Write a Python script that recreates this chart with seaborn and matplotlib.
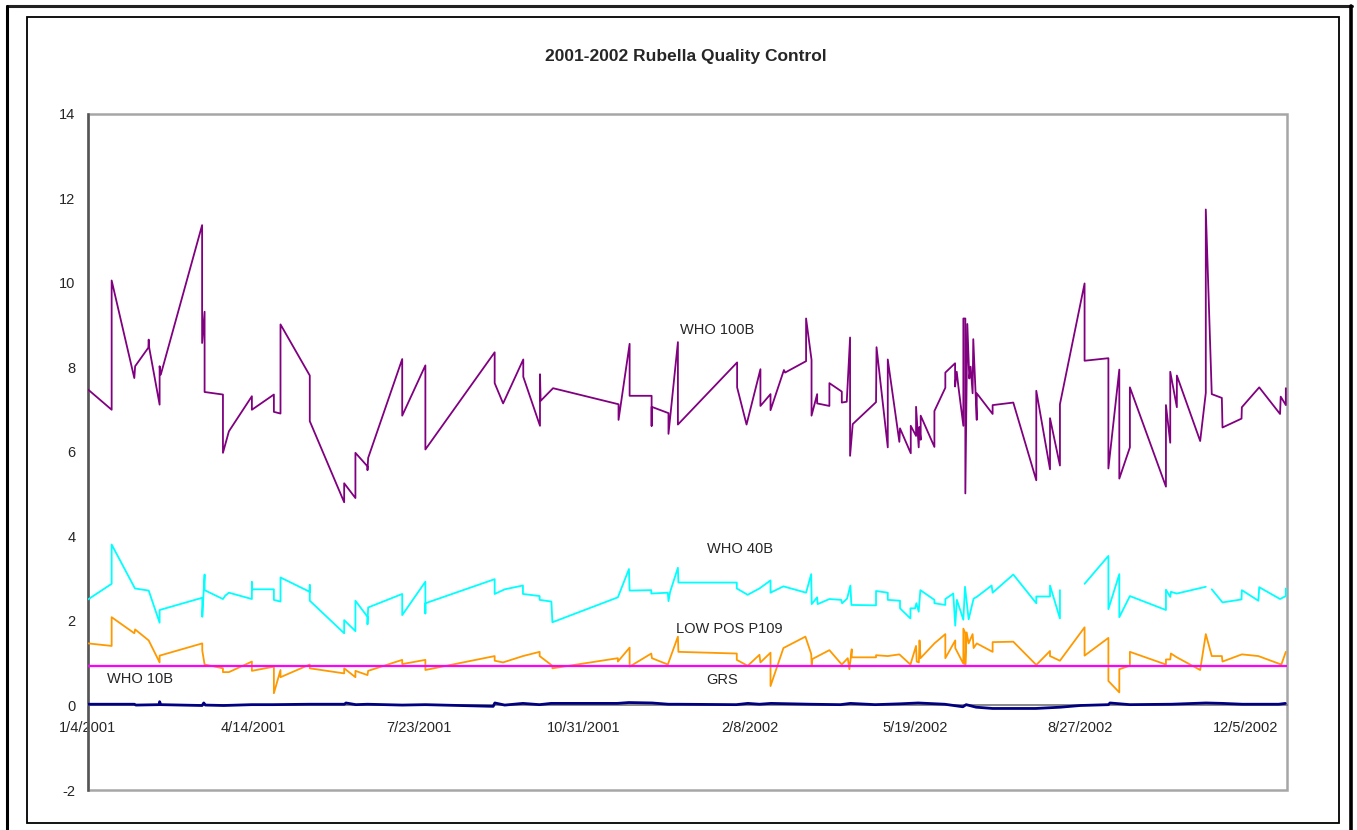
import matplotlib
matplotlib.use("Agg")
import matplotlib.pyplot as plt
from matplotlib.patches import Rectangle
from matplotlib.lines import Line2D
import numpy as np
import pandas as pd
import seaborn as sns

START = pd.Timestamp("2001-01-04")
END = pd.Timestamp("2002-12-30")

# readings: days since 1/4/2001 and measured value (NaN = break in the series)
who100_days = [0, 14.3, 14.3, 28, 28.5, 36.5, 36.7, 37, 43.3, 43.3, 44, 69, 69, 70.5, 70.5,
               81.6, 81.6, 85.2, 99.1, 99.1, 112.4, 112.4, 116.4, 116.4, 134.1, 134.1,
               154.9, 154.9, 161.7, 161.7, 169, 169, 169.4, 190, 190, 204, 204, 245.9, 245.9,
               251, 263.2, 263.2, 273.3, 273.3, 273.7, 281.2, 320.8, 320.8, 327.5, 327.5,
               340.8, 340.8, 340.8, 351, 351, 356.7, 356.7, 392.5, 392.5, 398.2, 406.6, 406.6,
               412.7, 412.7, 420.8, 421.5, 434.2, 434.2, 437.5, 437.5, 440.9, 440.9, 448.3,
               448.3, 455.8, 455.8, 458.8, 460.8, 460.8, 462.4, 476.5, 476.8, 483.6, 483.6,
               490.6, 491, 497.5, 497.5, 500.7, 500.7, 502.3, 502.7, 503.5, 503.5, 511.8,
               511.8, 518.4, 518.4, 524.3, 524.3, 525.3, 526.3, 529.3, 529.3, 530.5, 530.5,
               531.7, 532.9, 533.7, 534.9, 535.3, 537.4, 537.4, 547, 547, 559.5, 573.4, 573.4,
               581.7, 581.7, 587.7, 587.7, 602.6, 602.6, 617, 617, 623.6, 623.6, 630, 630,
               651.8, 651.8, 654.4, 654.4, 658.4, 658.4, 672.5, 675.9, 675.9, 679.5, 685.6,
               686, 697.5, 697.7, 708.2, 720.8, 721.2, 724.3, 724.3]
who100_vals = [7.48, 7.0, 10.06, 7.75, 8.03, 8.47, 8.66, 8.47, 7.12, 8.03, 7.83, 11.37, 8.58,
               9.32, 7.42, 7.36, 5.98, 6.49, 7.32, 7.0, 7.36, 6.95, 6.91, 9.02, 7.81, 6.73,
               4.81, 5.26, 4.91, 5.98, 5.66, 5.57, 5.86, 8.2, 6.86, 8.05, 6.06, 8.36, 7.63,
               7.15, 8.19, 7.78, 6.62, 7.84, 7.21, 7.51, 7.13, 6.76, 8.56, 7.33, 7.33, 6.62,
               7.07, 6.92, 6.43, 8.6, 6.65, 8.12, 7.53, 6.65, 7.96, 7.09, 7.37, 6.99, 7.94,
               7.88, 8.15, 9.16, 8.18, 6.86, 7.37, 7.15, 7.09, 7.63, 7.43, 7.17, 7.19, 8.71,
               5.91, 6.66, 7.18, 8.48, 6.11, 8.19, 6.24, 6.56, 5.97, 6.62, 6.38, 7.07, 6.11,
               6.59, 6.29, 6.86, 6.12, 6.97, 7.52, 7.88, 8.1, 7.55, 7.9, 7.55, 6.62, 9.16,
               9.16, 5.02, 9.03, 7.74, 8.02, 7.39, 8.67, 6.76, 7.39, 6.9, 7.11, 7.17, 5.33,
               7.45, 5.59, 6.8, 5.68, 7.13, 9.99, 8.16, 8.22, 5.61, 7.95, 5.37, 6.11, 7.53,
               5.18, 7.11, 6.22, 7.9, 7.06, 7.81, 6.26, 7.4, 11.74, 7.37, 7.28, 6.58, 6.79,
               7.06, 7.53, 6.9, 7.31, 7.11, 7.51]

who40_days = [0, 14.3, 14.3, 28.4, 36.7, 43.3, 43.3, 69.1, 69.1, 70.5, 70.5, 81.6, 83, 85.2,
              99.1, 99.1, 99.1, 112.4, 112.4, 116.4, 116.4, 134.1, 134.1, 134.1, 154.9, 154.9,
              161.7, 161.7, 169, 169, 169.4, 190, 190, 204, 204, 204, 245.9, 245.9, 252, 263,
              263, 273.1, 273.1, 280.2, 280.8, 320.4, 327.1, 327.5, 340.6, 340.6, 350.6, 351,
              352, 356.7, 357, 392.3, 392.3, 398.9, 406, 412.7, 412.7, 420.5, 434.2, 437.3,
              437.6, 440.9, 441.2, 448.3, 455.4, 456, 459, 461, 461.6, 476.5, 476.5, 483.6,
              483.6, 491, 491, 497.3, 497.3, 500.1, 500.9, 502.3, 503.3, 511.8, 511.8, 518.4,
              518.4, 523.2, 524.4, 525.4, 529.3, 530.3, 532.5, 535.5, 537.4, 546.4, 547, 559.5,
              573.4, 573.4, 581.7, 581.7, 587.7, 587.7, np.nan, 602.6, 617, 617, 623.6, 623.6,
              630, 651.8, 651.8, 654.4, 654.8, 658.4, 675.9, np.nan, 679.5, 686, 697.5, 697.7,
              707.7, 708.2, 720.8, 724.3, 724.3]
who40_vals = [2.51, 2.88, 3.81, 2.77, 2.72, 1.96, 2.26, 2.55, 2.1, 3.1, 2.73, 2.52, 2.6, 2.67,
              2.52, 2.92, 2.75, 2.75, 2.5, 2.46, 3.03, 2.69, 2.85, 2.48, 1.71, 2.02, 1.76, 2.48,
              2.1, 1.92, 2.32, 2.64, 2.14, 2.93, 2.18, 2.42, 2.99, 2.64, 2.75, 2.84, 2.64, 2.59,
              2.5, 2.46, 1.97, 2.56, 3.23, 2.72, 2.73, 2.65, 2.67, 2.47, 2.69, 3.26, 2.91, 2.91,
              2.77, 2.62, 2.77, 2.96, 2.67, 2.82, 2.67, 3.11, 2.4, 2.56, 2.4, 2.52, 2.5, 2.42,
              2.53, 2.84, 2.38, 2.37, 2.71, 2.67, 2.5, 2.48, 2.3, 2.06, 2.3, 2.3, 2.42, 2.22,
              2.73, 2.5, 2.42, 2.38, 2.52, 2.65, 1.89, 2.5, 2.03, 2.81, 2.04, 2.53, 2.57, 2.84,
              2.67, 3.1, 2.42, 2.58, 2.58, 2.84, 2.06, 2.73, np.nan, 2.88, 3.54, 2.28, 3.11,
              2.09, 2.59, 2.26, 2.74, 2.57, 2.69, 2.65, 2.81, np.nan, 2.75, 2.44, 2.51, 2.73,
              2.48, 2.8, 2.52, 2.59, 2.77]

lowpos_days = [0, 14.3, 14.3, 28, 28.5, 36.7, 43.3, 43.3, 69.1, 69.1, 70.5, 81.6, 81.6, 85.2,
               99.1, 99.1, 112.4, 112.4, 116.4, 116.4, 134.1, 134.1, 154.9, 154.9, 161.7,
               161.7, 169, 169.4, 190, 190, 204, 204, 245.9, 245.9, 251, 263, 273.1, 273.1,
               280.8, 280.8, 320.4, 320.4, 327.5, 327.5, 340.6, 341, 350.6, 356.7, 357, 392.3,
               392.3, 398.9, 406, 406.6, 412.7, 412.7, 420.5, 433.8, 437.3, 437.6, 438, 448.3,
               455.8, 459.4, 460.4, 461.8, 461.8, 476.5, 476.5, 483.6, 490.6, 497.3, 500.7,
               501.1, 502.4, 502.8, 503.4, 511.8, 518.4, 518.4, 524.4, 524.4, 529.3, 529.3,
               530.5, 530.5, 531.3, 532.5, 534.9, 535.5, 537.4, 547, 547, 559.5, 573.4, 581.7,
               581.7, 587.7, 602.6, 602.6, 617, 617, 623.6, 623.6, 630, 630, 651.8, 651.8,
               654.4, 654.8, 658.4, 672.5, 675.9, 679.5, 685.6, 686, 697.7, 707.7, 720.8,
               721.5, 724.3]
lowpos_vals = [1.47, 1.41, 2.09, 1.71, 1.8, 1.54, 1.02, 1.18, 1.47, 1.3, 0.97, 0.88, 0.79,
               0.79, 1.04, 0.82, 0.92, 0.29, 0.84, 0.67, 0.97, 0.88, 0.76, 0.88, 0.67, 0.82,
               0.72, 0.82, 1.08, 0.98, 1.08, 0.84, 1.17, 1.06, 1.02, 1.17, 1.27, 1.17, 0.94,
               0.88, 1.12, 1.04, 1.37, 0.92, 1.23, 1.12, 0.97, 1.63, 1.27, 1.23, 1.08, 0.94,
               1.2, 1.02, 1.25, 0.46, 1.36, 1.63, 1.22, 0.96, 1.1, 1.31, 0.97, 1.12, 0.86,
               1.33, 1.14, 1.14, 1.19, 1.17, 1.21, 0.97, 1.41, 1.04, 1.02, 1.54, 1.12, 1.47,
               1.69, 1.12, 1.54, 1.36, 0.99, 1.82, 1.71, 0.97, 1.73, 1.47, 1.69, 1.36, 1.47,
               1.27, 1.5, 1.51, 0.96, 1.29, 1.17, 1.06, 1.85, 1.18, 1.6, 0.58, 0.31, 0.86,
               0.94, 1.27, 0.97, 1.09, 1.09, 1.23, 1.14, 0.84, 1.69, 1.17, 1.17, 1.04, 1.21,
               1.17, 0.98, 0.96, 1.27]

who10_days = [0, 725]
who10_vals = [0.94, 0.94]

grs_days = [0, 28, 29, 43, 43.3, 44, 69, 70, 71, 82, 99, 112, 134, 155, 156, 162, 169, 190,
            204, 245, 246, 252, 263, 273, 280, 320, 327, 341, 351, 357, 392, 399, 406, 413,
            437, 455, 461, 476, 491, 502, 518, 529, 531, 537, 547, 573, 588, 600, 617, 618,
            624, 630, 655, 676, 686, 698, 720, 724]
grs_vals = [0.03, 0.03, 0.01, 0.02, 0.09, 0.02, 0.0, 0.06, 0.01, 0.0, 0.02, 0.02, 0.03, 0.03,
            0.06, 0.02, 0.03, 0.01, 0.02, -0.02, 0.06, 0.01, 0.05, 0.02, 0.05, 0.05, 0.07,
            0.06, 0.03, 0.03, 0.02, 0.05, 0.03, 0.05, 0.03, 0.02, 0.05, 0.02, 0.04, 0.06,
            0.03, -0.03, 0.02, -0.04, -0.07, -0.07, -0.04, 0.0, 0.02, 0.06, 0.04, 0.02, 0.03,
            0.06, 0.05, 0.03, 0.03, 0.05]

# series name, days, values, colour, line width
SERIES = [
    ("WHO 100B", who100_days, who100_vals, "#800080", 1.3),
    ("WHO 40B", who40_days, who40_vals, "#00FFFF", 1.3),
    ("LOW POS P109", lowpos_days, lowpos_vals, "#FF9900", 1.3),
    ("WHO 10B", who10_days, who10_vals, "#FF00FF", 1.6),
    ("GRS", grs_days, grs_vals, "#000080", 2.0),
]

# (text, day, value) of the in-chart series labels
LABELS = [("WHO 100B", 380.7, 8.89), ("WHO 40B", 394, 3.7), ("LOW POS P109", 388, 1.81),
          ("WHO 10B", 31.4, 0.63), ("GRS", 383.7, 0.6)]

W, H = 1357, 830


def to_frame(days, vals):
    df = pd.DataFrame({"day": days, "value": vals})
    df["seg"] = df["value"].isna().cumsum()
    df = df.dropna()
    df["date"] = START + pd.to_timedelta(df["day"], unit="D")
    return df


sns.set_style("white")
plt.rcParams["font.family"] = ["Liberation Sans", "DejaVu Sans"]
plt.rcParams["axes.unicode_minus"] = False

fig = plt.figure(figsize=(W / 100, H / 100), dpi=100)
ax = fig.add_axes([88 / W, 1 - 790 / H, (1287 - 88) / W, (790 - 114) / H])

for i, (name, days, vals, color, lw) in enumerate(SERIES):
    df = to_frame(days, vals)
    sns.lineplot(data=df, x="date", y="value", units="seg", estimator=None, sort=False,
                 color=color, linewidth=lw, ax=ax, legend=False, zorder=3 + i)

ax.set_xlim(START, END)
ax.set_ylim(-2, 14)
ax.set_yticks(range(-2, 15, 2))
ticks = [START + pd.Timedelta(days=100 * k) for k in range(8)]
ax.set_xticks(ticks)
ax.set_xticklabels([f"{d.month}/{d.day}/{d.year}" for d in ticks])
ax.set_xlabel("")
ax.set_ylabel("")

# Excel style plot area: grey frame, x axis crossing at 0
for side in ["top", "right"]:
    ax.spines[side].set_visible(False)
ax.add_patch(Rectangle((0, 0), 1, 1, transform=ax.transAxes, fill=False,
                       edgecolor="#a6a6a6", linewidth=1.8, clip_on=False, zorder=1))
ax.spines["bottom"].set_position(("data", 0))
ax.spines["bottom"].set_color("#808080")
ax.spines["bottom"].set_linewidth(1.3)
ax.spines["left"].set_color("#555555")
ax.spines["left"].set_linewidth(1.8)
ax.tick_params(axis="x", direction="out", length=5, width=1, color="#808080", pad=6,
               labelsize=10.5)
ax.tick_params(axis="y", direction="out", length=5, width=1, color="#555555", pad=4,
               labelsize=10.5)

for text, day, val in LABELS:
    ax.text(START + pd.Timedelta(days=day), val, text, ha="center", va="center",
            fontsize=10.5, zorder=10)

fig.text(686 / W, 1 - 57 / H, "2001-2002 Rubella Quality Control", ha="center",
         va="center", fontsize=12.5, fontweight="bold")

# chart frame and outer page border
fig.add_artist(Rectangle((27 / W, 1 - 823 / H), (1339 - 27) / W, (823 - 17) / H,
                         transform=fig.transFigure, fill=False, edgecolor="black",
                         linewidth=1.3))
fig.add_artist(Line2D([7 / W, 1352 / W], [1 - 6 / H, 1 - 6 / H], transform=fig.transFigure,
                      color="#222222", linewidth=2.2))
fig.add_artist(Line2D([7 / W, 7 / W], [0, 1 - 6 / H], transform=fig.transFigure,
                      color="black", linewidth=2.2))
fig.add_artist(Line2D([1351 / W, 1351 / W], [0, 1 - 6 / H], transform=fig.transFigure,
                      color="black", linewidth=2.6))

fig.savefig("out.png", dpi=100)
plt.close(fig)
